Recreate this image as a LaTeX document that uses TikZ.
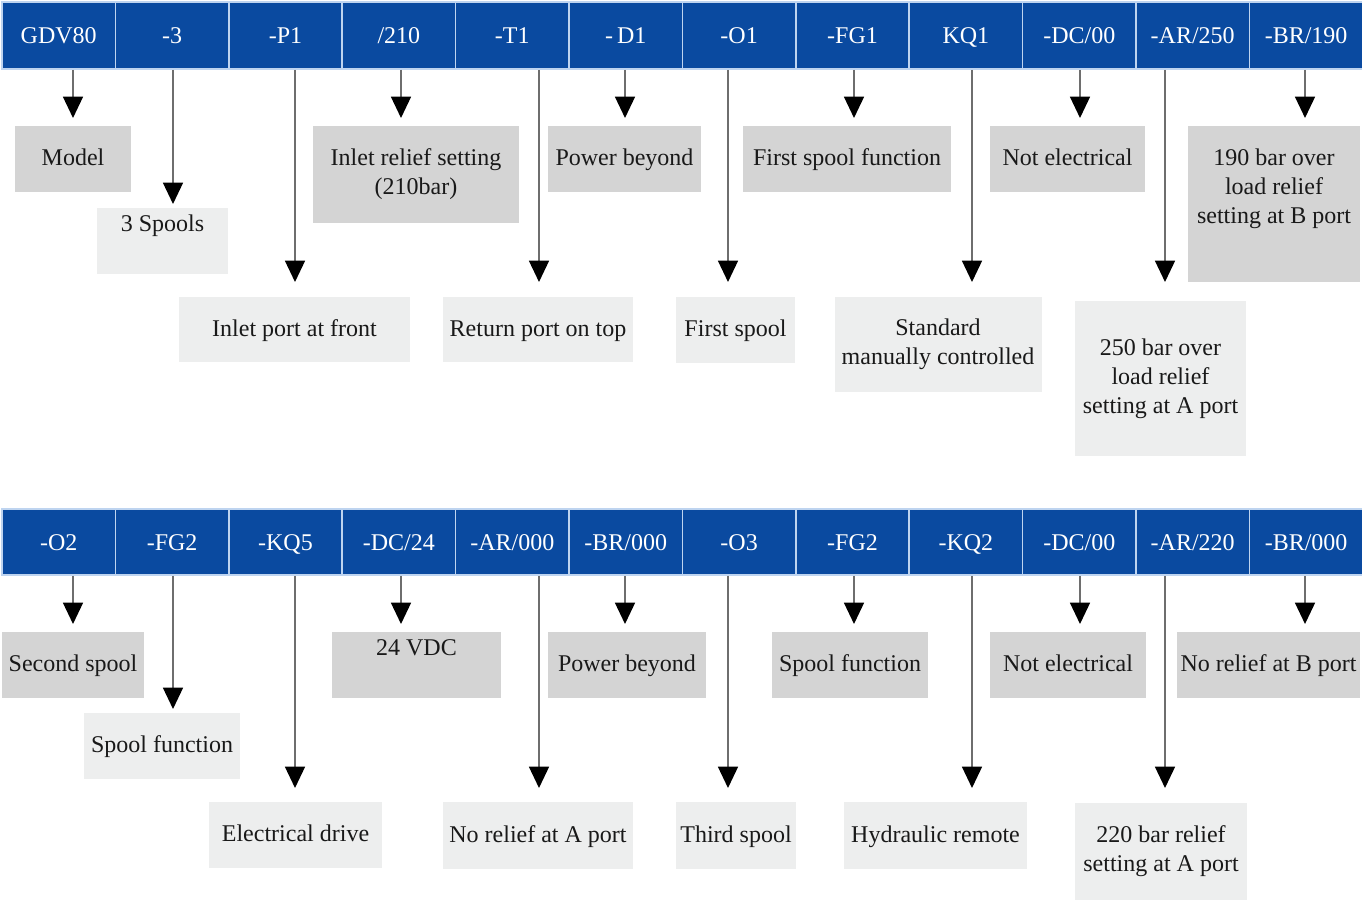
\documentclass[tikz,border=0pt]{standalone}
\usepackage{fontspec}
\setmainfont{Liberation Serif}
\usetikzlibrary{arrows.meta}
\definecolor{barblue}{RGB}{10,74,160}
\definecolor{barline}{RGB}{190,212,240}
\definecolor{boxdark}{RGB}{212,212,212}
\definecolor{boxlight}{RGB}{237,238,238}
\definecolor{linkgray}{RGB}{110,110,110}

\begin{document}
\begin{tikzpicture}[x=0.75pt, y=-0.75pt,
        font=\fontsize{18}{21.6}\selectfont,
        code/.style={fill=barblue, draw=barline, line width=1.2pt, text=white,
            minimum width=113.4*0.75pt, minimum height=67*0.75pt, inner sep=0pt,
            text height=12.5pt, text depth=0pt},
        sz/.style 2 args={minimum width=#1*0.75pt, minimum height=#2*0.75pt},
        meaning/.style={fill=boxdark, inner sep=2pt, align=center, text=black!90,
            text height=12.5pt, text depth=2.5pt},
        detail/.style={meaning, fill=boxlight},
        lines/.style={text height=, text depth=},
        raised/.style={text depth=#1},
        link/.style={draw=linkgray, line width=1.1pt,
            -{Triangle[width=15pt,length=16pt,color=black]}}]
        \useasboundingbox (0,0) rectangle (1362,902);

        % first code line
        \foreach \lab [count=\i from 0] in {GDV80,-3,-P1,/210,-T1,-\,D1,-O1,-FG1,KQ1,-DC/00,-AR/250,-BR/190}
            \node[code] (a\i) at ({58.7+113.4*\i},35.5) {\lab};

        \node[meaning, sz={116}{66}] (m0) at (73,159) {Model};
        \node[detail, sz={131}{66}, raised=26.5pt] (m1) at (162.5,241) {3 Spools};
        \node[detail, sz={231}{65}] (m2) at (294.5,329.5) {Inlet port at front};
        \node[meaning, lines, sz={206}{97}] (m3) at (416,174.5) {Inlet relief setting\\(210bar)};
        \node[detail, sz={190}{65}] (m4) at (538,329.5) {Return port on top};
        \node[meaning, sz={153}{66}] (m5) at (624.5,159) {Power beyond};
        \node[detail, sz={119}{66}] (m6) at (735.5,330) {First spool};
        \node[meaning, sz={208}{66}] (m7) at (847,159) {First spool function};
        \node[detail, lines, sz={207}{95}] (m8) at (938,344.5) {Standard\\manually controlled};
        \node[meaning, sz={155}{66}] (m9) at (1067.5,159) {Not electrical};
        \node[detail, lines, sz={171}{155}] (m10) at (1160.5,378.5) {250 bar over\\load relief\\setting at A port};
        \node[meaning, lines, sz={172}{156}, raised=26.5pt] (m11) at (1274,204) {190 bar over\\load relief\\setting at B port};

        \foreach \i/\x/\y in {0/73/118,1/173/204,2/295/282,3/401/118,4/539/282,5/625/118,
                6/728/282,7/854/118,8/972/282,9/1080/118,10/1165/282,11/1305/118}
            {
                \coordinate (s\i) at (\x,\y);
                \draw[link] (a\i.south -| s\i) -- (s\i);
            }

        % second code line
        \foreach \lab [count=\i from 0] in {-O2,-FG2,-KQ5,-DC/24,-AR/000,-BR/000,-O3,-FG2,-KQ2,-DC/00,-AR/220,-BR/000}
            \node[code, minimum height=66*0.75pt] (b\i) at ({58.7+113.4*\i},542) {\lab};

        \node[meaning, sz={142}{66}] (n0) at (73,665) {Second spool};
        \node[detail, sz={156}{66}] (n1) at (162,746) {Spool function};
        \node[detail, sz={173}{66}] (n2) at (295.5,835) {Electrical drive};
        \node[meaning, sz={169}{66}, raised=26.5pt] (n3) at (416.5,665) {24 VDC};
        \node[detail, sz={190}{67}] (n4) at (538,835.5) {No relief at A port};
        \node[meaning, sz={158}{66}] (n5) at (627,665) {Power beyond};
        \node[detail, sz={120}{67}] (n6) at (736,835.5) {Third spool};
        \node[meaning, sz={156}{66}] (n7) at (850,665) {Spool function};
        \node[detail, sz={183}{67}] (n8) at (935.5,835.5) {Hydraulic remote};
        \node[meaning, sz={156}{66}] (n9) at (1068,665) {Not electrical};
        \node[detail, lines, sz={172}{97}] (n10) at (1161,851.5) {220 bar relief\\setting at A port};
        \node[meaning, sz={183}{66}] (n11) at (1268.5,665) {No relief at B port};

        \foreach \i/\x/\y in {0/73/624,1/173/709,2/295/788,3/401/624,4/539/788,5/625/624,
                6/728/788,7/854/624,8/972/788,9/1080/624,10/1165/788,11/1305/624}
            {
                \coordinate (t\i) at (\x,\y);
                \draw[link] (b\i.south -| t\i) -- (t\i);
            }
\end{tikzpicture}
\end{document}
